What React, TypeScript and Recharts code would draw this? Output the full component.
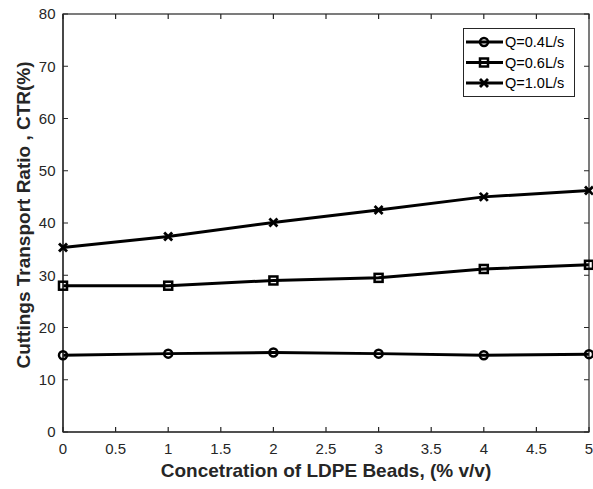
import React from 'react';
import { LineChart, Line, XAxis, YAxis, Legend, Label } from 'recharts';

// LDPE bead concentration (% v/v)
const concentration = [0, 1, 2, 3, 4, 5];
// Cuttings transport ratio (%) per flow rate
const ctrQ04 = [14.7, 15.0, 15.2, 15.0, 14.7, 14.9];
const ctrQ06 = [28.0, 28.0, 29.0, 29.5, 31.2, 32.0];
const ctrQ10 = [35.3, 37.4, 40.1, 42.5, 45.0, 46.2];
const seriesNames = ['Q=0.4L/s', 'Q=0.6L/s', 'Q=1.0L/s'];

const xTicks = [0, 0.5, 1, 1.5, 2, 2.5, 3, 3.5, 4, 4.5, 5];
const yTicks = [0, 10, 20, 30, 40, 50, 60, 70, 80];
const X_MAX = 5;
const Y_MAX = 80;

const data = concentration.map((c, i) => ({
  c,
  q04: ctrQ04[i],
  q06: ctrQ06[i],
  q10: ctrQ10[i],
}));

const FONT = '"Liberation Sans", Arial, Helvetica, sans-serif';
const AXIS = '#262626';

// chart frame
const CHART_W = 593;
const CHART_H = 489;
const MARGIN = { top: 14, right: 4, bottom: 0, left: 0 };
const PLOT_TOP = MARGIN.top;
const PLOT_RIGHT = CHART_W - MARGIN.right;
const TICK_LEN = 5;
const X_TICK_GAP = 11.5;
const Y_TICK_GAP = 7.5;
const FRAME_W = 1.2;

type MarkerKind = 'circle' | 'square' | 'cross';

const Marker = ({ kind, cx, cy }: { kind: MarkerKind; cx: number; cy: number }) => {
  if (kind === 'circle') {
    return <circle cx={cx} cy={cy} r={4} fill="none" stroke="#000" strokeWidth={2.5} />;
  }
  if (kind === 'square') {
    return <rect x={cx - 4} y={cy - 4} width={8} height={8} fill="none" stroke="#000" strokeWidth={2.5} />;
  }
  return (
    <g stroke="#000" strokeWidth={2.8}>
      <line x1={cx - 4} y1={cy - 4} x2={cx + 4} y2={cy + 4} />
      <line x1={cx - 4} y1={cy + 4} x2={cx + 4} y2={cy - 4} />
    </g>
  );
};

const dotFor = (kind: MarkerKind) => (props: any) => (
  <Marker key={`${kind}-${props.index}`} kind={kind} cx={props.cx} cy={props.cy} />
);

const kinds: MarkerKind[] = ['circle', 'square', 'cross'];

// x tick: label plus inward marks at bottom and top
const XTick = (p: any) => {
  const x = Number(p.x);
  const y = Number(p.y);
  const axisY = y - X_TICK_GAP;
  return (
    <g>
      <path
        d={`M${x},${axisY}V${axisY - TICK_LEN}M${x},${PLOT_TOP}V${PLOT_TOP + TICK_LEN}`}
        stroke={AXIS}
        strokeWidth={FRAME_W}
        fill="none"
      />
      <text x={x} y={y} dy="0.71em" textAnchor="middle" fontSize={15} fontFamily={FONT} fill={AXIS}>
        {p.payload.value}
      </text>
    </g>
  );
};

// y tick: label plus inward marks left and right
const YTick = (p: any) => {
  const x = Number(p.x);
  const y = Number(p.y);
  const axisX = x + Y_TICK_GAP;
  return (
    <g>
      <path
        d={`M${axisX},${y}H${axisX + TICK_LEN}M${PLOT_RIGHT - TICK_LEN},${y}H${PLOT_RIGHT}`}
        stroke={AXIS}
        strokeWidth={FRAME_W}
        fill="none"
      />
      <text x={x} y={y} dy="0.355em" textAnchor="end" fontSize={15} fontFamily={FONT} fill={AXIS}>
        {p.payload.value}
      </text>
    </g>
  );
};

// x axis title, drawn together with the closed box around the plot area
const XTitle = ({ viewBox }: any) => {
  const left = viewBox.x;
  const bottom = viewBox.y;
  const width = viewBox.width;
  return (
    <g>
      <rect
        x={left}
        y={PLOT_TOP}
        width={width}
        height={bottom - PLOT_TOP}
        fill="none"
        stroke={AXIS}
        strokeWidth={FRAME_W}
      />
      <text
        x={left + width / 2}
        y={viewBox.y + viewBox.height - 12}
        textAnchor="middle"
        fontSize={19}
        fontWeight="bold"
        fontFamily={FONT}
        fill={AXIS}
      >
        Concetration of LDPE Beads, (% v/v)
      </text>
    </g>
  );
};

const YTitle = ({ viewBox }: any) => {
  const x = viewBox.x + 23;
  const y = viewBox.y + viewBox.height / 2 - 8;
  return (
    <text
      x={x}
      y={y}
      transform={`rotate(-90, ${x}, ${y})`}
      textAnchor="middle"
      dominantBaseline="central"
      fontSize={19}
      fontWeight="bold"
      fontFamily={FONT}
      fill={AXIS}
    >
      Cuttings Transport Ratio , CTR(%)
    </text>
  );
};

// boxed legend in the upper right
const LegendBox = () => (
  <svg width={112} height={69} style={{ display: 'block' }}>
    <rect x={0.5} y={0.5} width={111} height={68} fill="#fff" stroke={AXIS} strokeWidth={1} />
    {seriesNames.map((name, i) => {
      const y = 14 + i * 20.5;
      return (
        <g key={name}>
          <line x1={3} y1={y} x2={40} y2={y} stroke="#000" strokeWidth={3} />
          <Marker kind={kinds[i]} cx={21} cy={y} />
          <text x={42} y={y + 5} fontSize={14.5} fontFamily={FONT} fill="#000">
            {name}
          </text>
        </g>
      );
    })}
  </svg>
);

const axisLineStyle = { stroke: AXIS, strokeWidth: FRAME_W };

export default function App() {
  return (
    <div style={{ position: 'absolute', left: 0, top: 0, background: '#fff' }}>
      <LineChart width={CHART_W} height={CHART_H} data={data} margin={MARGIN}>
        <XAxis
          dataKey="c"
          type="number"
          domain={[0, X_MAX]}
          ticks={xTicks}
          interval={0}
          height={57}
          tickSize={0}
          tickLine={false}
          tickMargin={X_TICK_GAP}
          axisLine={axisLineStyle}
          stroke={AXIS}
          tick={<XTick />}
        >
          <Label content={<XTitle />} />
        </XAxis>
        <YAxis
          type="number"
          domain={[0, Y_MAX]}
          ticks={yTicks}
          interval={0}
          width={63}
          tickSize={0}
          tickLine={false}
          tickMargin={Y_TICK_GAP}
          axisLine={axisLineStyle}
          stroke={AXIS}
          tick={<YTick />}
        >
          <Label content={<YTitle />} />
        </YAxis>
        <Legend
          layout="vertical"
          align="center"
          verticalAlign="middle"
          content={<LegendBox />}
          wrapperStyle={{ left: 463, top: 28, width: 112, height: 69 }}
        />
        <Line dataKey="q04" name={seriesNames[0]} stroke="#000" strokeWidth={3} dot={dotFor('circle')} isAnimationActive={false} />
        <Line dataKey="q06" name={seriesNames[1]} stroke="#000" strokeWidth={3} dot={dotFor('square')} isAnimationActive={false} />
        <Line dataKey="q10" name={seriesNames[2]} stroke="#000" strokeWidth={3} dot={dotFor('cross')} isAnimationActive={false} />
      </LineChart>
    </div>
  );
}
